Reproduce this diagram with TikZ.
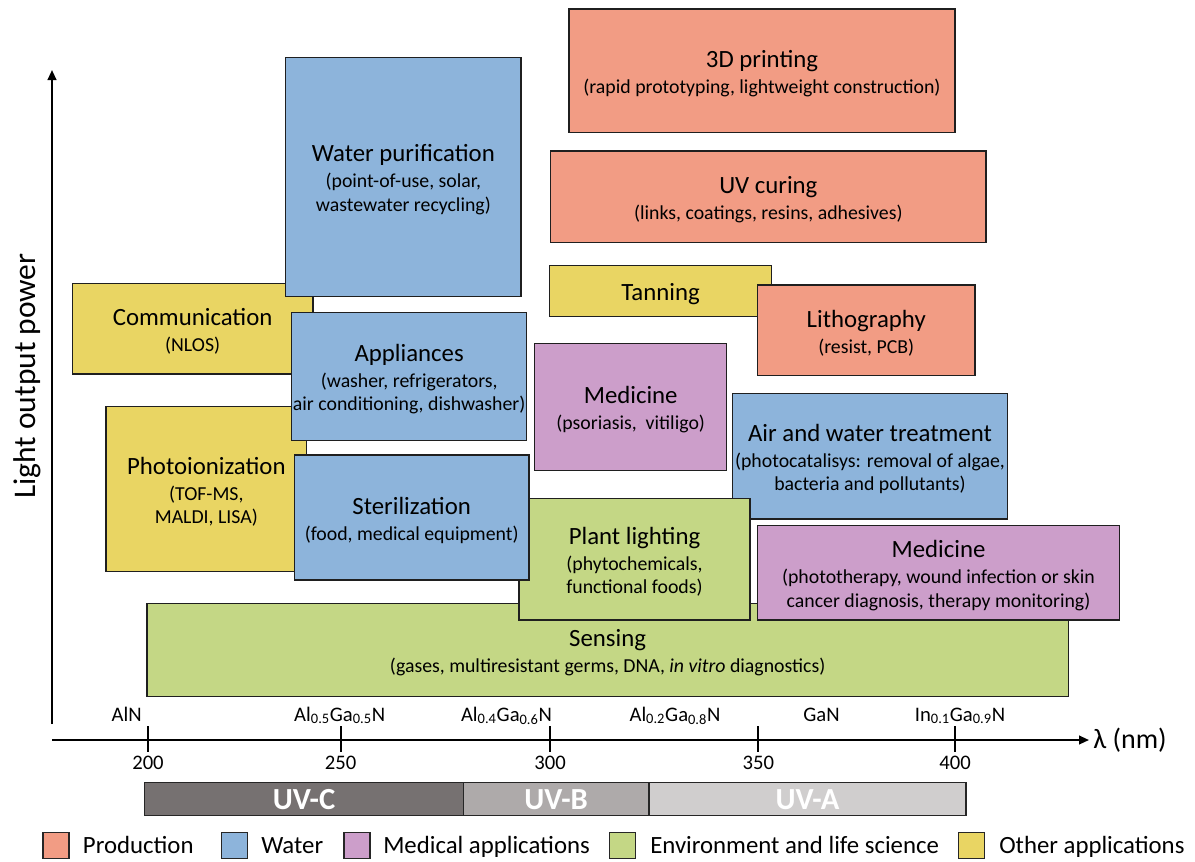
\documentclass[tikz,border=0pt]{standalone}
\usepackage{fontspec}
\setmainfont{Carlito}
\usetikzlibrary{fit,arrows.meta}
\definecolor{prodc}{HTML}{F29C84}
\definecolor{waterc}{HTML}{8DB4DB}
\definecolor{medc}{HTML}{CC9ECA}
\definecolor{envc}{HTML}{C4D785}
\definecolor{otherc}{HTML}{E9D563}
\definecolor{uvcc}{HTML}{767171}
\definecolor{uvbc}{HTML}{AEAAAA}
\definecolor{uvac}{HTML}{D0CECE}
\newcommand{\ttlf}{\fontsize{18.6}{21}\selectfont}
\newcommand{\subf}{\fontsize{14.85}{17.6}\selectfont}
\newcommand{\axf}{\fontsize{15.5}{18}\selectfont}
\begin{document}
\begin{tikzpicture}[x=0.75pt,y=-0.75pt,
  appbox/.style={draw=black!88, line width=1.1pt, inner sep=0pt},
  apptext/.style={inner sep=0pt, align=center, font=\subf, yshift=-2pt},
  uvbox/.style={draw=black!85, line width=1.1pt, inner sep=0pt},
  uvtext/.style={inner sep=0pt, text=white, font=\bfseries\fontsize{23}{26}\selectfont},
  legsq/.style={draw=black!85, line width=1.1pt, inner sep=0pt, minimum size=19.5pt},
  legtxt/.style={anchor=base west, inner sep=0pt, font=\ttlf},
  axisline/.style={line width=1.5pt, black},
  tickline/.style={line width=1.5pt, black},
  numlab/.style={anchor=base, inner sep=0pt, font=\axf},
  matlab/.style={anchor=base, inner sep=0pt, font=\axf},
  arrowtip/.style={-{Triangle[length=7.5pt,width=6.5pt]}}
]
\useasboundingbox (0,0) rectangle (1195,861);

% application boxes (drawing order matters for overlaps)
\node[appbox, fill=envc, fit={(147,603.5) (1068.3,696.7)}] (sensing) {};
\node[apptext] (sensing-t) at (sensing.center)
  {{\ttlf Sensing}\\[2pt] (gases, multiresistant germs, DNA, \textit{in vitro} diagnostics)};
\node[appbox, fill=otherc, fit={(72.3,283.7) (313,374)}] (comm) {};
\node[apptext] (comm-t) at (comm.center)
  {{\ttlf Communication}\\[2pt] (NLOS)};
\node[appbox, fill=otherc, fit={(106,406.7) (306.7,571.7)}] (photo) {};
\node[apptext] (photo-t) at (photo.center)
  {{\ttlf Photoionization}\\[2pt] (TOF-MS,\\ MALDI, LISA)};
\node[appbox, fill=waterc, fit={(285.7,57.3) (521,296.7)}] (water) {};
\node[apptext] (water-t) at (water.center)
  {{\ttlf Water purification}\\[2pt] (point-of-use, solar,\\ wastewater recycling)};
\node[appbox, fill=waterc, fit={(291.7,312.3) (526.7,440.7)}] (appl) {};
\node[apptext] (appl-t) at (appl.center)
  {{\ttlf Appliances}\\[2pt] (washer, refrigerators,\\ air conditioning, dishwasher)};
\node[appbox, fill=waterc, fit={(732.3,393.3) (1007.7,519)}] (airw) {};
\node[apptext] (airw-t) at (airw.center)
  {{\ttlf Air and water treatment}\\[2pt] (photocatalisys: removal of algae,\\ bacteria and pollutants)};
\node[appbox, fill=envc, fit={(519,498.3) (750,620)}] (plant) {};
\node[apptext] (plant-t) at (plant.center)
  {{\ttlf Plant lighting}\\[2pt] (phytochemicals,\\ functional foods)};
\node[appbox, fill=waterc, fit={(294.3,455) (529,580)}] (steril) {};
\node[apptext] (steril-t) at (steril.center)
  {{\ttlf Sterilization}\\[2pt] (food, medical equipment)};
\node[appbox, fill=medc, fit={(534.7,343.3) (726.7,470.7)}] (med1) {};
\node[apptext] (med1-t) at (med1.center)
  {{\ttlf Medicine}\\[2pt] (psoriasis,\ \ vitiligo)};
\node[appbox, fill=medc, fit={(757.7,525.7) (1119.3,620)}] (med2) {};
\node[apptext] (med2-t) at (med2.center)
  {{\ttlf Medicine}\\[2pt] (phototherapy, wound infection or skin\\ cancer diagnosis, therapy monitoring)};
\node[appbox, fill=prodc, fit={(569,9) (955,132.7)}] (print) {};
\node[apptext] (print-t) at (print.center)
  {{\ttlf 3D printing}\\[2pt] (rapid prototyping, lightweight construction)};
\node[appbox, fill=prodc, fit={(550.7,151) (986,242.3)}] (curing) {};
\node[apptext] (curing-t) at (curing.center)
  {{\ttlf UV curing}\\[2pt] (links, coatings, resins, adhesives)};
\node[appbox, fill=otherc, fit={(549.3,265.7) (771.7,316.7)}] (tan) {};
\node[apptext] (tan-t) at (tan.center) {{\ttlf Tanning}};
\node[appbox, fill=prodc, fit={(757.5,285) (975,375.7)}] (litho) {};
\node[apptext] (litho-t) at (litho.center)
  {{\ttlf Lithography}\\[2pt] (resist, PCB)};

% axes
\coordinate (ybot) at (52,724);
\coordinate (ytop) at (52,70);
\coordinate (xleft) at (52,740);
\coordinate (xright) at (1089,740);
\draw[axisline, arrowtip] (ybot) -- (ytop);
\draw[axisline, arrowtip] (xleft) -- (xright);
\node[rotate=90, inner sep=0pt, font=\fontsize{23.6}{26}\selectfont] (ylab) at (27,376) {Light output power};
\node[anchor=west, inner sep=0pt, font=\fontsize{21}{24}\selectfont] (xlab) at (1093,740) {λ (nm)};

% ticks
\foreach \tx/\tn in {148/200, 340.7/250, 550/300, 758.3/350, 955/400}{
  \draw[tickline] (\tx,726) -- (\tx,752);
  \node[numlab] at (\tx,769.5) {\tn};
}
\node[matlab] (m1) at (126.7,721) {AlN};
\node[matlab] (m2) at (339.7,721) {Al\textsubscript{0.5}Ga\textsubscript{0.5}N};
\node[matlab] (m3) at (506.5,721) {Al\textsubscript{0.4}Ga\textsubscript{0.6}N};
\node[matlab] (m4) at (675,721) {Al\textsubscript{0.2}Ga\textsubscript{0.8}N};
\node[matlab] (m5) at (821.5,721) {GaN};
\node[matlab] (m6) at (960,721) {In\textsubscript{0.1}Ga\textsubscript{0.9}N};

% UV bands
\node[uvbox, fill=uvcc, fit={(144.7,782.7) (463.3,815.7)}] (uvc) {};
\node[uvtext] (uvc-t) at (uvc.center) {UV-C};
\node[uvbox, fill=uvbc, fit={(463.3,782.7) (649,815.7)}] (uvb) {};
\node[uvtext] (uvb-t) at (uvb.center) {UV-B};
\node[uvbox, fill=uvac, fit={(649,782.7) (966,815.7)}] (uva) {};
\node[uvtext] (uva-t) at (uva.center) {UV-A};

% legend
\node[legsq, fill=prodc] (lg1) at (56,845.5) {};
\node[legtxt] (lt1) at (82.7,853) {Production};
\node[legsq, fill=waterc] (lg2) at (234.3,845.5) {};
\node[legtxt] (lt2) at (261,853) {Water};
\node[legsq, fill=medc] (lg3) at (357.2,845.5) {};
\node[legtxt] (lt3) at (383,853) {Medical applications};
\node[legsq, fill=envc] (lg4) at (622.7,845.5) {};
\node[legtxt] (lt4) at (650,853) {Environment and life science};
\node[legsq, fill=otherc] (lg5) at (971.7,845.5) {};
\node[legtxt] (lt5) at (999,853) {Other applications};
\end{tikzpicture}
\end{document}
